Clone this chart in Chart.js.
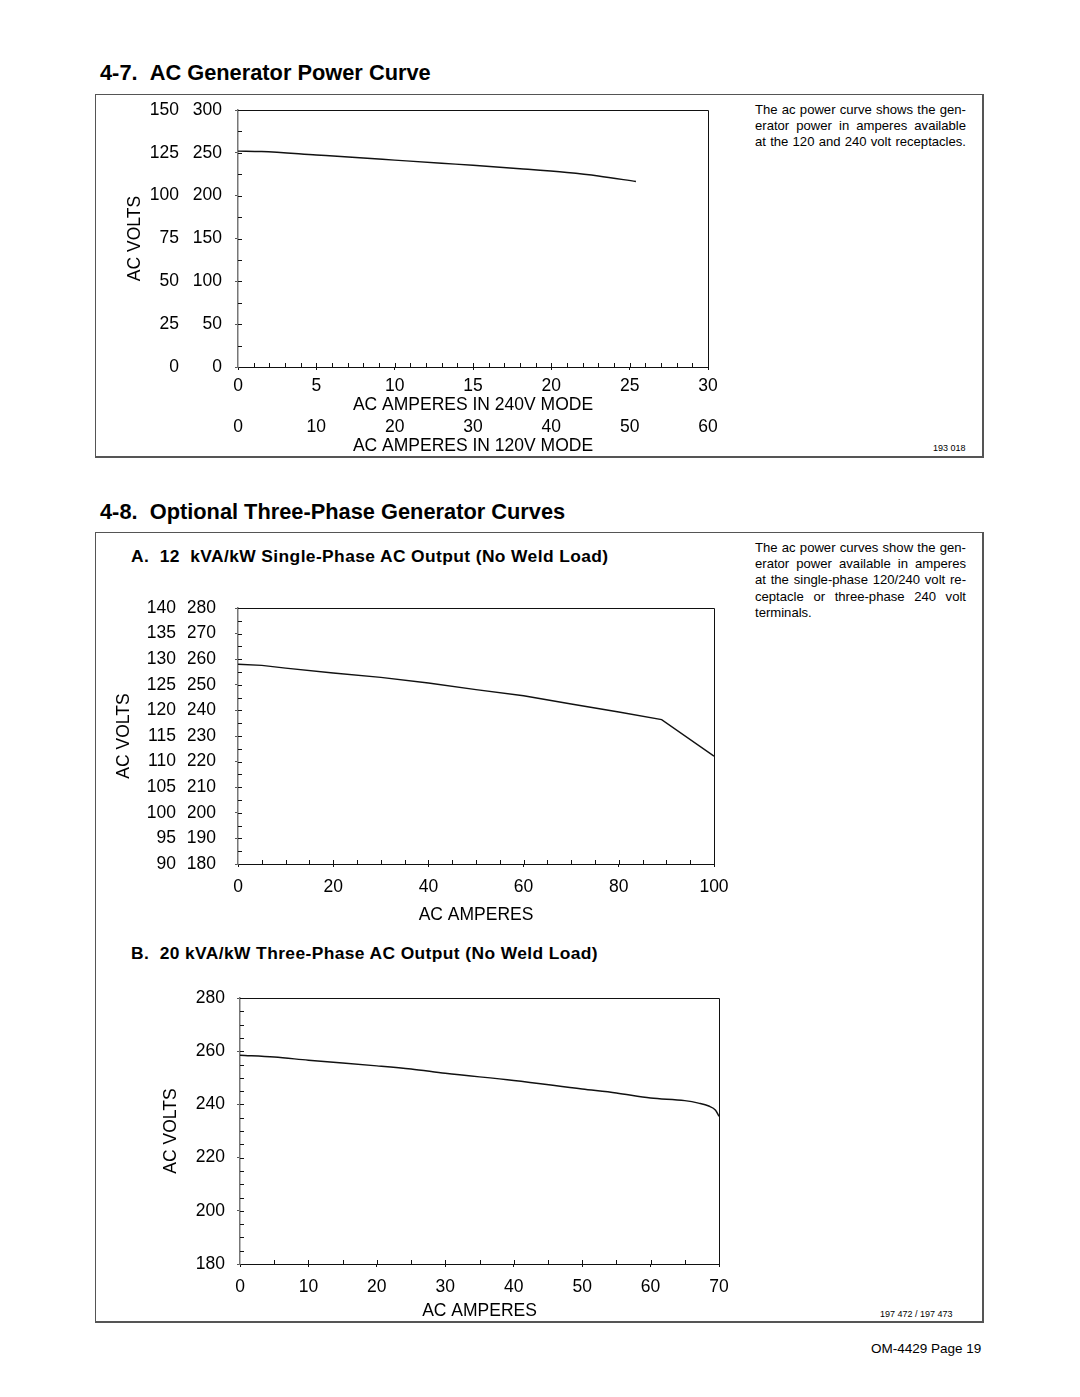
<!DOCTYPE html>
<html>
<head>
<meta charset="utf-8">
<title>AC Generator Power Curves</title>
<script src="https://cdn.jsdelivr.net/npm/chart.js@4.4.0/dist/chart.umd.min.js"></script>
<style>
  body { margin: 0; background: #fff; font-family: "Liberation Sans", Arial, Helvetica, sans-serif; color: #000; }
  #page { position: relative; width: 1080px; height: 1397px; overflow: hidden; }
  .abs { position: absolute; white-space: nowrap; }
  .h1 { font-weight: bold; font-size: 21.8px; }
  .h2 { font-weight: bold; font-size: 17.4px; letter-spacing: 0.4px; }
  .frame { position: absolute; border: 1px solid #555; border-right-width: 2px; border-bottom-width: 2px; box-sizing: border-box; }
  .note { position: absolute; width: 211px; font-size: 13.1px; line-height: 16.2px; }
  .note div { text-align: justify; text-align-last: justify; }
  .note div.last { text-align-last: left; }
  .code { font-size: 9px; }
  canvas { position: absolute; }
</style>
</head>
<body>
<div id="page">
  <div class="abs h1" style="left:100px; top:60px;">4-7.&nbsp;&nbsp;AC Generator Power Curve</div>
  <div class="frame" style="left:95px; top:94px; width:889px; height:364px;"></div>
  <div class="note" style="left:755px; top:102px;">
    <div>The ac power curve shows the gen-</div>
    <div>erator power in amperes available</div>
    <div>at the 120 and 240 volt receptacles.</div>
  </div>
  <div class="abs code" style="left:933px; top:443px;">193 018</div>

  <div class="abs h1" style="left:100px; top:499px;">4-8.&nbsp;&nbsp;Optional Three-Phase Generator Curves</div>
  <div class="frame" style="left:95px; top:532px; width:889px; height:791px;"></div>
  <div class="abs h2" style="left:131px; top:546px;">A.&nbsp;&nbsp;12&nbsp;&nbsp;kVA/kW Single-Phase AC Output (No Weld Load)</div>
  <div class="note" style="left:755px; top:540px;">
    <div>The ac power curves show the gen-</div>
    <div>erator power available in amperes</div>
    <div>at the single-phase 120/240 volt re-</div>
    <div>ceptacle or three-phase 240 volt</div>
    <div class="last">terminals.</div>
  </div>
  <div class="abs h2" style="left:131px; top:943px;">B.&nbsp;&nbsp;20 kVA/kW Three-Phase AC Output (No Weld Load)</div>
  <div class="abs code" style="left:880px; top:1309px;">197 472 / 197 473</div>
  <div class="abs" style="left:871px; top:1341px; font-size:13.5px;">OM-4429 Page 19</div>

  <canvas id="chart1" width="610" height="359" style="left:115px; top:98px;"></canvas>
  <canvas id="chart2" width="635" height="335" style="left:100px; top:594px;"></canvas>
  <canvas id="chart3" width="590" height="338" style="left:150px; top:985px;"></canvas>
</div>

<script>
// 4-7: ac amperes in 240V mode vs volts (240V scale)
const amps240 = [0, 1.5, 5, 8, 10, 13, 15, 18, 21, 23, 25.4];
const volts240 = [252, 251.5, 247.5, 244, 241.5, 237.8, 235.5, 231.5, 227, 223, 216.5];
const yTicks1Right = [0, 50, 100, 150, 200, 250, 300];
const yTicks1Left = [0, 25, 50, 75, 100, 125, 150];

// 4-8 A: single-phase output
const ampsSingle = [0, 5, 10, 20, 30, 40, 50, 60, 70, 80, 89, 100];
const voltsSingle = [258, 257.6, 256.5, 254.6, 252.9, 250.7, 248.1, 245.7, 242.5, 239.4, 236.4, 222.1];

// 4-8 B: three-phase output
const ampsThree = [0, 5, 10, 20, 25, 30, 40, 50, 55, 60, 65, 67, 68.5, 69.5, 70];
const voltsThree = [258.5, 257.8, 256.6, 254.5, 253.3, 251.7, 249.0, 245.8, 244.3, 242.4, 241.4, 240.5, 239.4, 237.8, 235.5];

const FONT = "'Liberation Sans', Arial, Helvetica, sans-serif";
const tickFont = { family: FONT, size: 17.5 };

// draws the top/right border of the plot plus the small inside tick marks
const frameTicks = {
  id: "frameTicks",
  afterDraw(chart, args, opts) {
    const { ctx, chartArea: a, scales } = chart;
    const x = scales.x, y = scales.y;
    ctx.save();
    ctx.strokeStyle = "#111";
    ctx.lineWidth = 1;
    ctx.beginPath();
    ctx.moveTo(a.left, a.top + 0.5);
    ctx.lineTo(a.right + 0.5, a.top + 0.5);
    ctx.lineTo(a.right + 0.5, a.bottom);
    ctx.stroke();
    ctx.beginPath();
    for (let v = x.min + opts.xMinor; v < x.max - 1e-6; v += opts.xMinor) {
      const px = Math.round(x.getPixelForValue(v)) + 0.5;
      ctx.moveTo(px, a.bottom);
      ctx.lineTo(px, a.bottom - 4);
    }
    for (let v = y.min + opts.yMinor; v < y.max - 1e-6; v += opts.yMinor) {
      const py = Math.round(y.getPixelForValue(v)) + 0.5;
      ctx.moveTo(a.left, py);
      ctx.lineTo(a.left + 4, py);
    }
    ctx.stroke();
    ctx.restore();
  }
};

function toPoints(xs, ys) {
  return xs.map((v, i) => ({ x: v, y: ys[i] }));
}

function lineDataset(xs, ys, smooth) {
  return {
    data: toPoints(xs, ys),
    borderColor: "#111",
    borderWidth: 1.4,
    pointRadius: 0,
    tension: 0,
    cubicInterpolationMode: smooth ? "monotone" : "default",
    fill: false
  };
}

// fixed axis sizes so the plot areas land where the page wants them
function fixWidth(w) {
  return (scale) => { scale.width = w; scale.paddingTop = 0; scale.paddingBottom = 0; };
}
function fixHeight(h) {
  return (scale) => { scale.height = h; scale.paddingLeft = 0; scale.paddingRight = 0; };
}

function xAxis(max, step, height, pad, title, titlePad) {
  return {
    type: "linear",
    position: "bottom",
    min: 0,
    max: max,
    weight: 0,
    afterFit: fixHeight(height),
    border: { color: "#111", width: 1 },
    grid: { drawOnChartArea: false, tickLength: 3, color: "#111" },
    ticks: { stepSize: step, padding: pad, color: "#000", font: tickFont, maxRotation: 0, autoSkip: false },
    title: { display: !!title, text: title, color: "#000", font: tickFont, padding: titlePad }
  };
}

function yAxis(min, max, step, width, pad, title, titlePad) {
  return {
    type: "linear",
    position: "left",
    min: min,
    max: max,
    weight: 0,
    afterFit: fixWidth(width),
    border: { color: "#777", width: 1.5 },
    grid: { drawOnChartArea: false, tickLength: 3, color: "#555" },
    ticks: { stepSize: step, padding: pad, color: "#000", font: tickFont },
    title: { display: !!title, text: title, color: "#000", font: tickFont, padding: titlePad }
  };
}

// secondary label column / row, sharing pixel positions with the main axis
function labelOnly(axis, min, max, step, size, pad, title, titlePad) {
  const horizontal = axis === "x";
  return {
    type: "linear",
    position: horizontal ? "bottom" : "left",
    min: min,
    max: max,
    weight: 1,
    afterFit: horizontal ? fixHeight(size) : fixWidth(size),
    border: { display: false },
    grid: { display: false, drawTicks: false },
    ticks: { stepSize: step, padding: pad, color: "#000", font: tickFont, maxRotation: 0, autoSkip: false },
    title: { display: true, text: title, color: "#000", font: tickFont, padding: titlePad }
  };
}

const baseOptions = {
  responsive: false,
  animation: false,
  devicePixelRatio: 1,
  plugins: { legend: { display: false }, tooltip: { enabled: false } }
};

// Chart 4-7
new Chart(document.getElementById("chart1"), {
  type: "line",
  data: { datasets: [lineDataset(amps240, volts240, true)] },
  plugins: [frameTicks],
  options: {
    ...baseOptions,
    layout: { padding: { top: 12, right: 17, left: 0, bottom: 0 } },
    plugins: { ...baseOptions.plugins, frameTicks: { xMinor: 1, yMinor: 25 } },
    scales: {
      x: xAxis(30, 5, 49, 6, "AC AMPERES IN 240V MODE", { top: 0, bottom: 0 }),
      x2: labelOnly("x", 0, 60, 10, 41, 1, "AC AMPERES IN 120V MODE", { top: 0, bottom: 0 }),
      y: yAxis(yTicks1Right[0], yTicks1Right[yTicks1Right.length - 1], 50, 50, 13, "", 0),
      y2: labelOnly("y", yTicks1Left[0], yTicks1Left[yTicks1Left.length - 1], 25, 73, 9, "AC VOLTS", { top: 10, bottom: 0 })
    }
  }
});

// Chart 4-8 A
new Chart(document.getElementById("chart2"), {
  type: "line",
  data: { datasets: [lineDataset(ampsSingle, voltsSingle, false)] },
  plugins: [frameTicks],
  options: {
    ...baseOptions,
    layout: { padding: { top: 14, right: 21, left: 0, bottom: 0 } },
    plugins: { ...baseOptions.plugins, frameTicks: { xMinor: 5, yMinor: 5 } },
    scales: {
      x: xAxis(100, 20, 65, 10, "AC AMPERES", { top: 0, bottom: 3 }),
      y: yAxis(180, 280, 10, 50, 19, "", 0),
      y2: labelOnly("y", 90, 140, 5, 88, 12, "AC VOLTS", { top: 14, bottom: 0 })
    }
  }
});

// Chart 4-8 B
new Chart(document.getElementById("chart3"), {
  type: "line",
  data: { datasets: [lineDataset(ampsThree, voltsThree, true)] },
  plugins: [frameTicks],
  options: {
    ...baseOptions,
    layout: { padding: { top: 13, right: 21, left: 0, bottom: 0 } },
    plugins: { ...baseOptions.plugins, frameTicks: { xMinor: 5, yMinor: 5 } },
    scales: {
      x: xAxis(70, 10, 59, 10, "AC AMPERES", { top: 0, bottom: 1 }),
      y: yAxis(180, 280, 20, 90, 12, "AC VOLTS", { top: 11, bottom: 0 })
    }
  }
});
</script>
</body>
</html>
